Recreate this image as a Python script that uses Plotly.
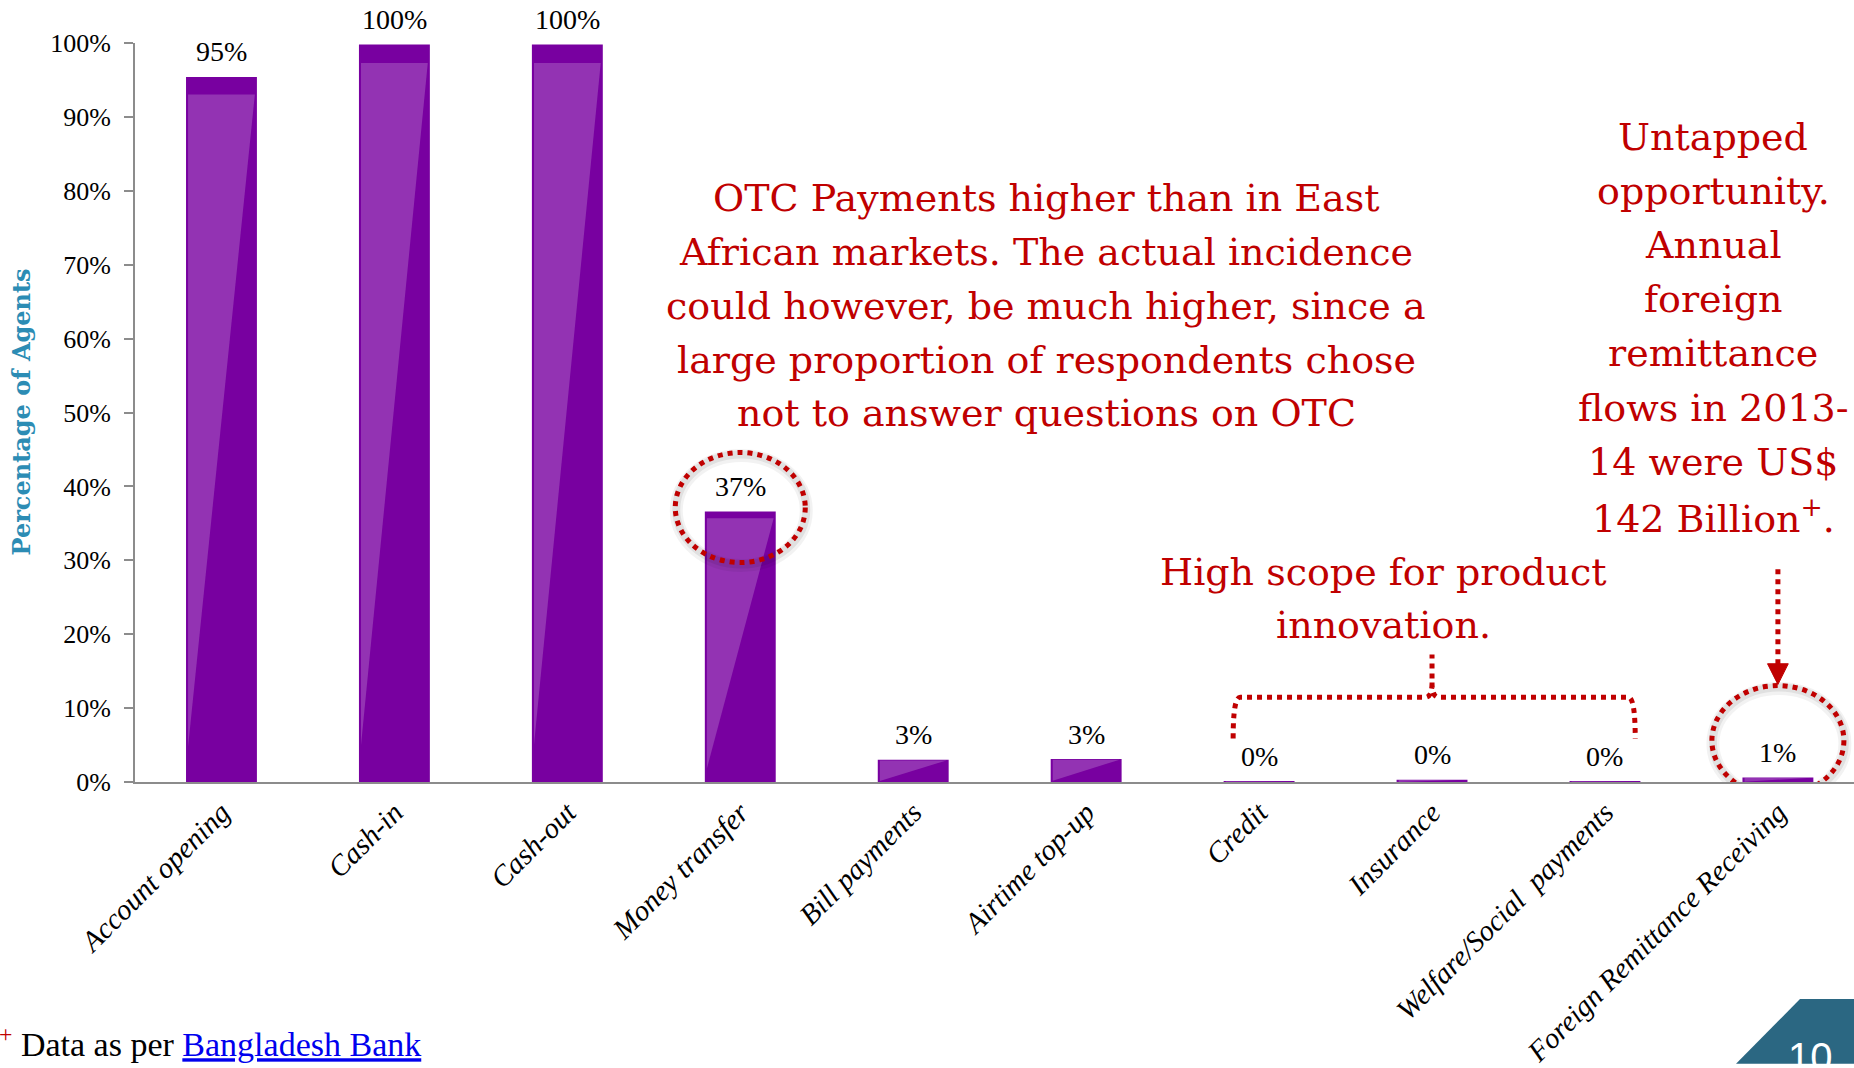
import plotly.graph_objects as go

# ---- data -------------------------------------------------------------
categories = [
    "Account opening", "Cash-in", "Cash-out", "Money transfer", "Bill payments",
    "Airtime top-up", "Credit", "Insurance", "Welfare/Social  payments",
    "Foreign Remittance Receiving",
]
share_of_agents = [0.954, 0.998, 0.998, 0.366, 0.030, 0.031, 0.001, 0.003, 0.001, 0.006]

y_tick_values = [0.0, 0.1, 0.2, 0.3, 0.4, 0.5, 0.6, 0.7, 0.8, 0.9, 1.0]
y_tick_labels = ["0%", "10%", "20%", "30%", "40%", "50%", "60%", "70%", "80%", "90%", "100%"]

otc_note = [
    "OTC Payments higher than in East",
    "African markets. The actual incidence",
    "could however, be much higher, since a",
    "large proportion of respondents chose",
    "not to answer questions on OTC",
]
remittance_note = [
    "Untapped", "opportunity.", "Annual", "foreign", "remittance",
    "flows in 2013-", "14 were US$", "142 Billion<sup>+</sup>.",
]
innovation_note = ["High scope for product", "innovation."]

# ---- styling ----------------------------------------------------------
W, H = 1854, 1068
PLOT_L, PLOT_T, PLOT_W, PLOT_H = 135, 43, 1719, 742
BAR_DARK = "#7800A0"
GLOSS = "rgba(255,255,255,0.20)"
RED = "#C00000"
AXIS_GREY = "#8C8C8C"
TEAL = "#2C8CB4"
SERIF = "Liberation Serif"
NOTE_FONT = "DejaVu Serif"
BAR_WIDTH = 0.41

x_pos = list(range(len(categories)))


def px_x(x):
    """pixel column -> paper x"""
    return (x - PLOT_L) / PLOT_W


def px_y(y):
    """pixel row -> paper y"""
    return (PLOT_T + PLOT_H - y) / PLOT_H


fig = go.Figure()
fig.add_trace(go.Bar(
    x=x_pos, y=share_of_agents, width=BAR_WIDTH,
    marker=dict(color=BAR_DARK, line=dict(width=0)),
    hoverinfo="skip", cliponaxis=False,
))

shapes = []
annotations = []

# glossy highlight on each bar: a lighter wedge under a dark cap
half = BAR_WIDTH / 2
inset = 0.012
for i, v in zip(x_pos, share_of_agents):
    xl, xr = i - half + inset, i + half - inset
    shapes.append(dict(
        type="path", xref="x", yref="y", layer="above",
        path=f"M {xl},{v * 0.975} L {xr},{v * 0.975} L {xl},{v * 0.05} Z",
        fillcolor=GLOSS, line=dict(width=0),
    ))
    annotations.append(dict(
        x=i, y=v, xref="x", yref="y", text=f"{v:.0%}", showarrow=False,
        yanchor="middle", yshift=25,
        font=dict(family=SERIF, size=28, color="black"),
    ))


def dotted_ellipse(i, v, rx, ry, dy):
    """dotted red ring anchored on a bar top, with a soft grey halo"""
    for width, colour, off in ((13, "rgba(0,0,0,0.05)", -3), (8, "rgba(0,0,0,0.07)", -2)):
        shapes.append(dict(
            type="circle", xref="x", yref="y", xsizemode="pixel", ysizemode="pixel",
            xanchor=i, yanchor=v, x0=-rx + 1, x1=rx + 1, y0=-ry + dy + off, y1=ry + dy + off,
            line=dict(color=colour, width=width), layer="above",
        ))
    shapes.append(dict(
        type="circle", xref="x", yref="y", xsizemode="pixel", ysizemode="pixel",
        xanchor=i, yanchor=v, x0=-rx, x1=rx, y0=-ry + dy, y1=ry + dy,
        line=dict(color=RED, width=5, dash="dot"), layer="above",
    ))


dotted_ellipse(3, share_of_agents[3], 65, 55, 4)
dotted_ellipse(9, share_of_agents[9], 66, 55, 37)

# bracket spanning Credit / Insurance / Welfare
xl, xm, xr = 5.85, 7.0, 8.175
yb, yt, ys = 0.059, 0.1146, 0.1725
bracket = (
    f"M {xl},{yb} Q {xl},{yt} {xl + 0.04},{yt} L {xm - 0.04},{yt} "
    f"Q {xm},{yt} {xm},{yt + 0.02} L {xm},{ys} "
    f"M {xm},{yt + 0.02} Q {xm},{yt} {xm + 0.04},{yt} L {xr - 0.04},{yt} "
    f"Q {xr},{yt} {xr},{yb}"
)
shapes.append(dict(type="path", xref="x", yref="y", path=bracket,
                   line=dict(color=RED, width=5, dash="dot"), layer="above"))

# dotted pointer from the remittance note down to its ring
shapes.append(dict(type="line", xref="x", yref="y", x0=9, x1=9, y0=0.288, y1=0.152,
                   line=dict(color=RED, width=5, dash="dot"), layer="above"))
shapes.append(dict(type="path", xref="x", yref="y", layer="above",
                   path="M 8.94,0.16 L 9.06,0.16 L 9,0.132 Z",
                   fillcolor=RED, line=dict(color=RED, width=1)))

# page-number tab in the corner
shapes.append(dict(
    type="path", xref="paper", yref="paper", layer="above",
    path=(f"M {px_x(1736)},{px_y(1068)} L {px_x(1800)},{px_y(1003)} "
          f"L {px_x(1854)},{px_y(1003)} L {px_x(1854)},{px_y(1068)} Z"),
    fillcolor="#2B6782", line=dict(width=0),
))
annotations.append(dict(
    x=px_x(1810), y=px_y(1037), xref="paper", yref="paper", text="10",
    showarrow=False, xanchor="center", yanchor="top",
    font=dict(family="Liberation Sans", size=40, color="white"),
))


def note_block(lines, cx, first_y, step, size):
    for k, line in enumerate(lines):
        annotations.append(dict(
            x=px_x(cx), y=px_y(first_y + k * step), xref="paper", yref="paper",
            text=line, showarrow=False, xanchor="center", yanchor="middle",
            font=dict(family=NOTE_FONT, size=size, color=RED),
        ))


note_block(otc_note, 1046, 199, 54, 38)
note_block(remittance_note, 1713, 137, 54.4, 38)
note_block(innovation_note, 1383, 574, 53, 38)

# axis title
annotations.append(dict(
    x=0, y=0.5, xref="paper", yref="paper", xshift=-114, textangle=-90,
    text="<b>Percentage of Agents</b>", showarrow=False,
    xanchor="center", yanchor="middle",
    font=dict(family=NOTE_FONT, size=24, color=TEAL),
))

# source footnote
annotations.append(dict(
    x=px_x(-3), y=px_y(1046), xref="paper", yref="paper", showarrow=False,
    xanchor="left", yanchor="middle",
    text=(f"<span style='color:{RED}'><sup>+</sup></span> Data as per "
          "<span style='color:#0000EE'><u>Bangladesh Bank</u></span>"),
    font=dict(family=SERIF, size=34, color="black"),
))

fig.update_layout(
    width=W, height=H,
    margin=dict(l=PLOT_L, r=W - PLOT_L - PLOT_W, t=PLOT_T, b=H - PLOT_T - PLOT_H, pad=0),
    paper_bgcolor="white", plot_bgcolor="white", showlegend=False,
    shapes=shapes, annotations=annotations,
    xaxis=dict(
        range=[-0.5, 9.44], tickmode="array", tickvals=x_pos, ticktext=categories,
        tickangle=-45, ticks="", showgrid=False, zeroline=False,
        showline=True, linecolor=AXIS_GREY, linewidth=2,
        tickfont=dict(family=SERIF, size=29, color="black", style="italic"),
    ),
    yaxis=dict(
        range=[0, 1], tickmode="array", tickvals=y_tick_values, ticktext=y_tick_labels,
        ticks="outside", ticklen=9, tickwidth=2, tickcolor=AXIS_GREY,
        showgrid=False, zeroline=False, showline=True, linecolor=AXIS_GREY, linewidth=2,
        tickfont=dict(family=SERIF, size=26, color="black"), ticklabelstandoff=8,
    ),
)

fig.write_html("out.html")
